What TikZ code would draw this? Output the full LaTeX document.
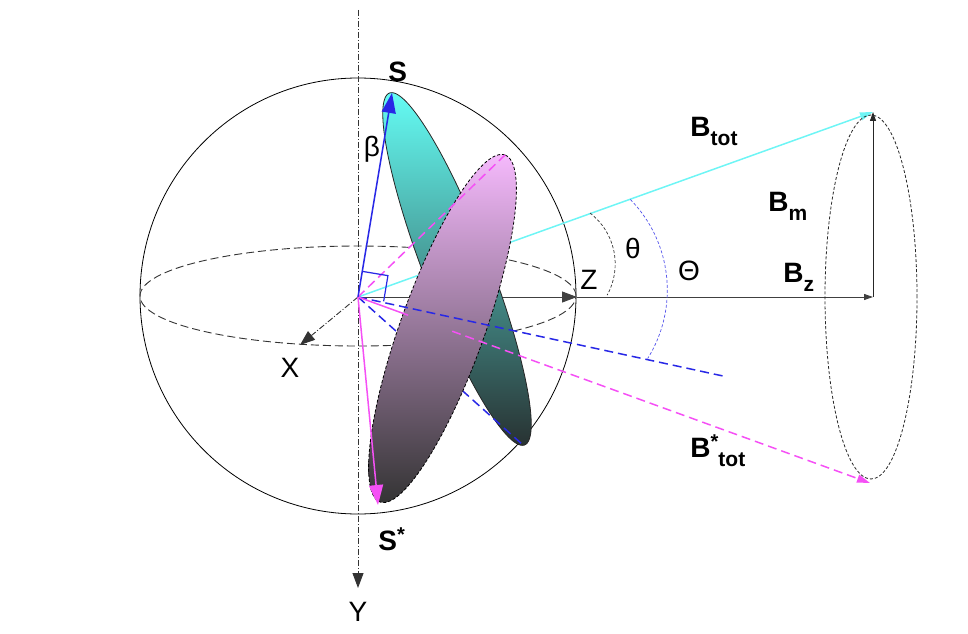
\documentclass[tikz,border=0pt]{standalone}
\usepackage{fontspec}
\setmainfont{Liberation Sans}
\usetikzlibrary{arrows.meta,calc}
\definecolor{sblue}{RGB}{40,40,230}
\definecolor{scyan}{RGB}{110,245,245}
\definecolor{smag}{RGB}{245,80,245}
\definecolor{tealtop}{RGB}{100,252,244}
\definecolor{tealmid}{RGB}{66,145,134}
\definecolor{tealbot}{RGB}{40,50,50}
\definecolor{purtop}{RGB}{245,185,252}
\definecolor{purmid}{RGB}{168,132,170}
\definecolor{purbot}{RGB}{52,52,52}
\newcommand\subtx[1]{\raisebox{-9pt}{\fontsize{21}{21}\selectfont #1}}
\newcommand\suptx{\raisebox{9pt}{\fontsize{20}{20}\selectfont *}}
\begin{document}
\begin{tikzpicture}[x=1pt,y=1pt,line width=0.9pt,
  lbl/.style={inner sep=0pt,font=\fontsize{28}{30}\selectfont},
  blbl/.style={inner sep=0pt,anchor=base west,font=\fontsize{28}{30}\selectfont\bfseries},
  dashdot/.style={dash pattern=on 6pt off 2pt on 1pt off 2pt},
  bigtip/.style={-{Triangle[length=20pt,width=14pt]}},
  midtip/.style={-{Triangle[length=15pt,width=11pt]}},
  smalltip/.style={-{Triangle[length=9pt,width=6pt]}},
  bdash/.style={sblue,line width=1.5pt,dash pattern=on 9pt off 5pt},
  mdash/.style={smag,line width=1.5pt,dash pattern=on 9pt off 5pt}]
\useasboundingbox (0,0) rectangle (968,633);
% points
\coordinate (O) at (358,336);
\coordinate (C) at (358,337);
\coordinate (Ytop) at (358,623);
\coordinate (Ytip) at (358,45);
\coordinate (Xtip) at (300,288);
\coordinate (Zpt) at (577,336);
\coordinate (Bz) at (873,336);
\coordinate (Bt) at (873,521);
\coordinate (Bst) at (870,150);
\coordinate (Cone) at (871,336);
\coordinate (Stip) at (392,540);
\coordinate (Sstip) at (378,128);
\coordinate (Dend) at (723,257);
\coordinate (Tbot) at (523,188);
\coordinate (Ptop) at (505,478);
\coordinate (ThC) at (551,369);
\coordinate (TTC) at (538,343);
% sphere
\draw[line width=0.8pt] (C) circle[radius=218];
\draw[black!80,line width=0.9pt,dash pattern=on 8pt off 4pt] (C) ellipse[x radius=218,y radius=50];
% axes
\draw[black!80,dashdot,midtip] (Ytop) -- (Ytip);
\draw[black!80,dashdot,midtip] (O) -- (Xtip);
\draw[black!75,midtip] (O) -- (Zpt);
\draw[black!75,smalltip] (Zpt) -- (Bz);
\draw[black!85,smalltip] (Bz) -- (Bt);
\draw[scyan,line width=1.5pt,-{Triangle[length=13pt,width=8pt]}] (O) -- (Bt);
% angle arcs
\draw[black!80,line width=0.7pt,dash pattern=on 3pt off 2pt] (ThC) ++(52.6:64.2) arc[start angle=52.6,end angle=-29,radius=64.2];
\draw[sblue!80,line width=0.7pt,dash pattern=on 3pt off 2pt] (TTC) ++(44.4:129.3) arc[start angle=44.4,end angle=-32,radius=129.3];
% cone
\draw[black!85,line width=0.8pt,dash pattern=on 3pt off 2pt] (Cone) ellipse[x radius=46,y radius=182];
% teal ellipse
\shade[top color=tealtop,middle color=tealmid,bottom color=tealbot,draw=black!85,line width=0.8pt]
  plot[domain=0:360,samples=120] ({457+67.56*cos(\x)+30.81*sin(\x)},{364-175.98*cos(\x)+11.83*sin(\x)}) -- cycle;
\draw[bdash] (O) -- (Tbot);
% purple ellipse
\shade[top color=purtop,middle color=purmid,bottom color=purbot,draw=black,line width=0.8pt,dash pattern=on 3pt off 2pt]
  plot[domain=0:360,samples=120] ({442.5+62.46*cos(\x)-39.52*sin(\x)},{304.5+173.5*cos(\x)+14.23*sin(\x)}) -- cycle;
\draw[bdash] (O) -- (Dend);
\draw[mdash] (O) -- (Ptop);
\draw[smag,line width=1.5pt] (O) -- ($(O)!0.098!(Bst)$);
\draw[mdash,-{Triangle[length=13pt,width=8pt]}] ($(O)!0.184!(Bst)$) -- (Bst);
% S vectors
\draw[sblue,line width=1.5pt,bigtip] (O) -- (Stip);
\draw[smag,line width=1.5pt,bigtip] (O) -- (Sstip);
\coordinate (Ra) at ($(O)!26pt!(Stip)$);
\coordinate (Rc) at ($(O)!26pt!-90:(Stip)$);
\draw[sblue,line width=1.2pt] (Ra) -- ($(Ra)+(Rc)-(O)$) -- (Rc);
% labels
\node[lbl] (lY) at (358,21) {Y};
\node[lbl] (lX) at (290,265) {X};
\node[lbl] (lZ) at (589,353) {Z};
\node[lbl] (lth) at (633,385) {θ};
\node[lbl] (lTh) at (689,362) {Θ};
\node[lbl] (lbeta) at (372,484) {β};
\node[blbl] (lS) at (388,551) {S};
\node[blbl] (lSs) at (378,83) {S\suptx};
\node[blbl] (lBt) at (690,496) {B\subtx{tot}};
\node[blbl] (lBm) at (768,421) {B\subtx{m}};
\node[blbl] (lBz) at (783,351) {B\subtx{z}};
\node[blbl] (lBst) at (690,176) {B\suptx\subtx{tot}};
\end{tikzpicture}
\end{document}
